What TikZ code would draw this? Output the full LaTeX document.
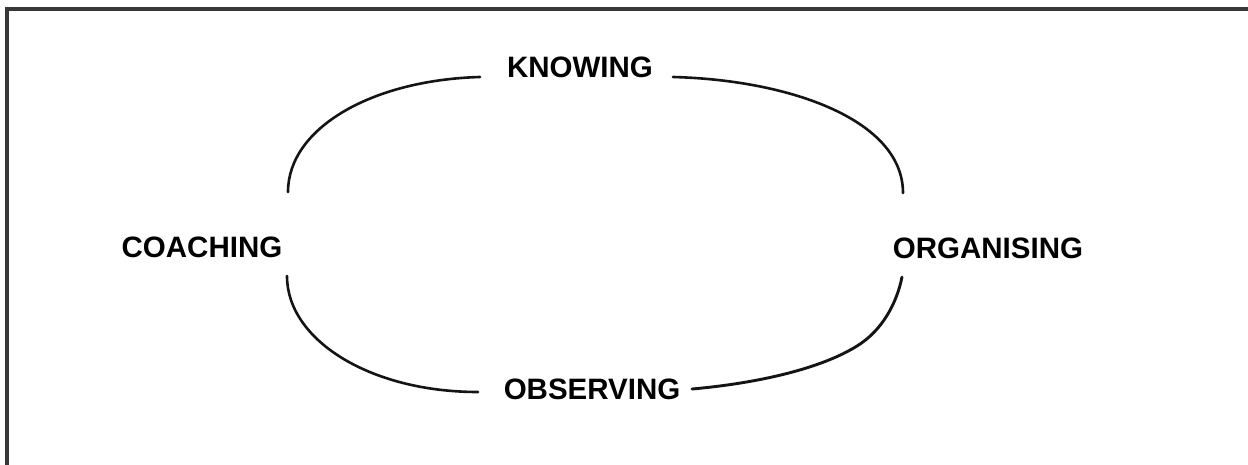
\documentclass[tikz,border=0pt]{standalone}
\usepackage{fontspec}
\setmainfont{Liberation Sans}
\begin{document}
\begin{tikzpicture}[x=1pt,y=-1pt,
  lbl/.style={inner sep=0pt, anchor=center, font=\fontsize{29.5}{31}\selectfont\bfseries},
  arc/.style={line width=2.6pt, line cap=round, black!92},
  frame/.style={line width=4pt, color=black!78}]
\useasboundingbox (0,0) rectangle (1248,465);
\fill[white] (0,0) rectangle (1248,465);
% frame (top and left edges)
\draw[frame] (7,465) -- (7,9.5) -- (1248,9.5);
% labels
\node[lbl] (know) at (580,67) {KNOWING};
\node[lbl] (coach) at (202,247) {COACHING};
\node[lbl] (org) at (988,248) {ORGANISING};
\node[lbl] (obs) at (592,389) {OBSERVING};
% end points of the curves
\coordinate (tlA) at (288,192);
\coordinate (tlB) at (480,77);
\coordinate (trA) at (673,77);
\coordinate (trB) at (903,193);
\coordinate (blA) at (287,276);
\coordinate (blB) at (478,392);
\coordinate (brA) at (692,389);
\coordinate (brB) at (902,277);
% curves
\draw[arc] (tlA) .. controls (288,128) and (372,80) .. (tlB);
\draw[arc] (trA) .. controls (790,80) and (903,120) .. (trB);
\draw[arc] (blA) .. controls (287,340) and (370,392) .. (blB);
\draw[arc, line width=2.9pt] (brA) .. controls (760,383) and (822,368) .. (857,346)
   .. controls (883,330) and (897,302) .. (brB);
\end{tikzpicture}
\end{document}
